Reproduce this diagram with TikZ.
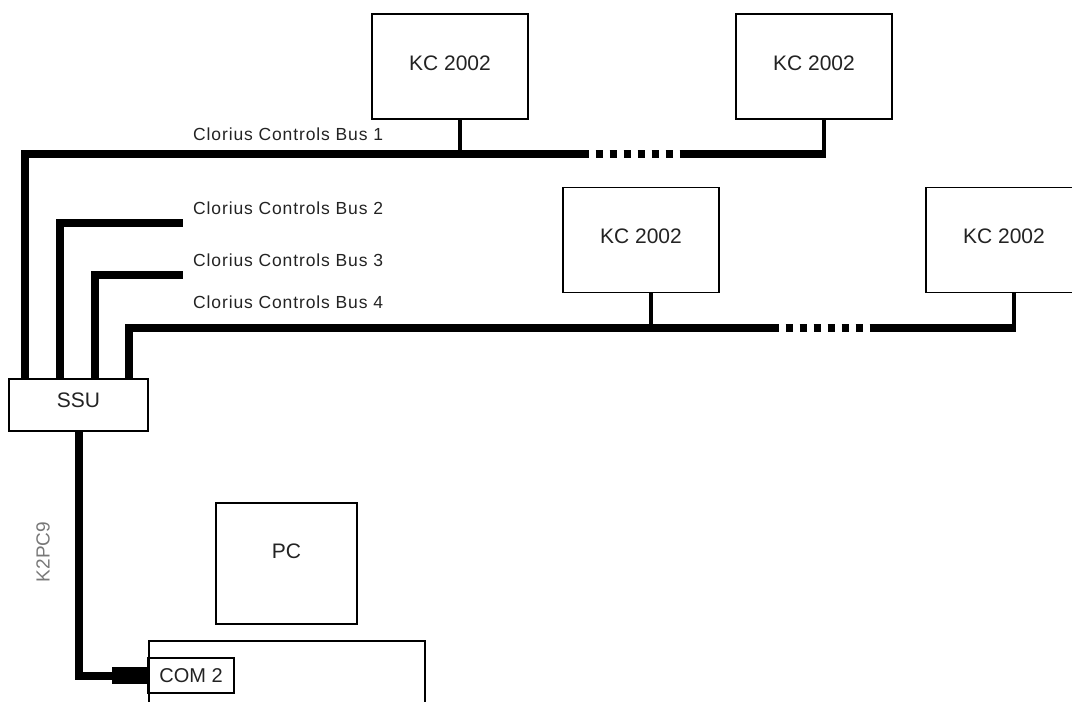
\documentclass[tikz,border=0pt]{standalone}
\usepackage{fontspec}
\setmainfont{Liberation Sans}
\usetikzlibrary{positioning}
\definecolor{ink}{RGB}{35,35,35}
\definecolor{cable}{RGB}{120,120,120}
\newcommand{\bigtext}{\fontsize{21}{25}\selectfont}
\newcommand{\bustext}{\fontsize{17.5}{21}\selectfont\addfontfeature{LetterSpace=5}}

\begin{document}
\begin{tikzpicture}[x=1pt,y=-1pt,
    unit/.style={draw,line width=1.6pt,inner sep=0pt,text=ink,font=\bigtext},
    bus/.style={line width=8pt,line join=miter},
    gapdash/.style={line width=8pt,dash pattern=on 7.5pt off 6.5pt,dash phase=7.5pt},
    drop/.style={line width=4.5pt}]
  \path[use as bounding box,clip] (0,0) rectangle (1072,702);

  % controllers on bus 1 and bus 4
  \foreach \n/\x/\y in {ka/450/66.5, kb/814/66.5, kc/641/240, kd/1004/240}
    \node[unit,minimum width=156,minimum height=105,text depth=7pt] (\n) at (\x,\y) {KC 2002};

  \node[unit,minimum width=139,minimum height=52,text depth=9pt] (ssu) at (78.5,405) {SSU};
  \node[unit,minimum width=141,minimum height=121,text depth=24pt] (pc) at (286.5,563.5) {PC};
  \node[unit,minimum width=276,minimum height=90,anchor=north west] (host) at (148,640) {};
  \node[unit,minimum width=86,minimum height=35,font=\fontsize{20}{24}\selectfont] (com) at (191,675.5) {COM 2};
  \node[fill=black,minimum width=36,minimum height=17,inner sep=0pt] (plug) at (130,675.5) {};

  % bus labels
  \foreach \i/\y in {1/134, 2/208, 3/260, 4/302}
    \node[font=\bustext,text=ink,anchor=west,inner sep=0pt] (lbl\i) at (193,\y) {Clorius Controls Bus \i};
  \node[rotate=90,font=\fontsize{19}{23}\selectfont,text=cable,inner sep=0pt] (k2) at (43,552) {K2PC9};

  % bus ends and gaps
  \coordinate (b1) at (589,154);
  \coordinate (b1r) at (682,154);
  \coordinate (b2) at (183,223);
  \coordinate (b3) at (183,275);
  \coordinate (b4) at (779,328);
  \coordinate (b4r) at (874,328);

  \draw[bus] ([xshift=17]ssu.north west) |- (b1);
  \draw[gapdash] (b1) -- (b1r);
  \draw[bus] (b1r) -- ([xshift=12.25]kb.south |- b1r);
  \draw[bus] ([xshift=52]ssu.north west) |- (b2);
  \draw[bus] ([xshift=87]ssu.north west) |- (b3);
  \draw[bus] ([xshift=121]ssu.north west) |- (b4);
  \draw[gapdash] (b4) -- (b4r);
  \draw[bus] (b4r) -- ([xshift=12.25]kd.south |- b4r);

  \foreach \n/\b in {ka/b1, kb/b1r, kc/b4, kd/b4r}
    \draw[drop] ([xshift=10]\n.south) -- ([xshift=10]\n.south |- \b);

  % serial cable to the PC
  \draw[bus] (ssu.south) |- (plug.west);
\end{tikzpicture}
\end{document}
